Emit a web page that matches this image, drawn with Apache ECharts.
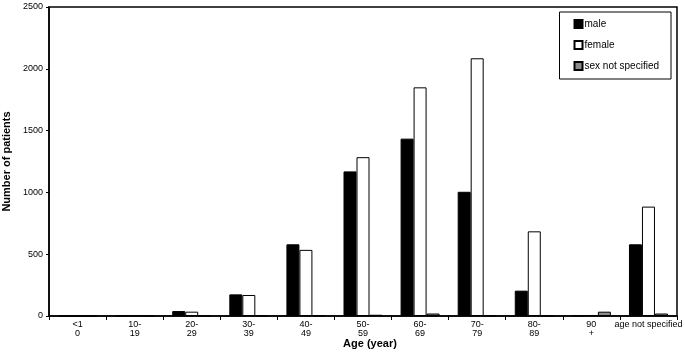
<!DOCTYPE html>
<html>
<head>
<meta charset="utf-8">
<script src="https://cdn.jsdelivr.net/npm/echarts@6/dist/echarts.min.js"></script>
<style>
html,body{margin:0;padding:0;background:#fff;}
#c{width:685px;height:352px;}
</style>
</head>
<body>
<div id="c"></div>
<script>
var categories = ['<1\n0', '10-\n19', '20-\n29', '30-\n39', '40-\n49', '50-\n59', '60-\n69', '70-\n79', '80-\n89', '90\n+', 'age not specified'];
var male = [0, 3, 40, 175, 580, 1170, 1435, 1005, 205, 5, 580];
var female = [0, 5, 35, 170, 535, 1285, 1850, 2085, 685, 8, 885];
var unspecified = [0, 2, 2, 3, 5, 10, 20, 5, 2, 35, 20];
var yTicks = [0, 500, 1000, 1500, 2000, 2500];

var chart = echarts.init(document.getElementById('c'));
var font = 'Liberation Sans, Arial, sans-serif';
function bar(name, data, color) {
  return {
    name: name, type: 'bar', data: data, barWidth: 13, barGap: '0%',
    itemStyle: { color: color, borderColor: '#000', borderWidth: 1 },
    emphasis: { disabled: true }
  };
}
chart.setOption({
  animation: false,
  textStyle: { fontFamily: font },
  grid: { left: 49, right: 8, top: 7, bottom: 36, outerBoundsMode: 'none', containLabel: false,
          show: true, borderColor: '#000', borderWidth: 1.5 },
  legend: {
    orient: 'vertical', right: 14, top: 12,
    borderColor: '#000', borderWidth: 1, padding: [7, 12, 8, 14],
    itemWidth: 8, itemHeight: 8, itemGap: 11,
    icon: 'rect',
    textStyle: { fontSize: 10, color: '#000', fontFamily: font, padding: [0, 0, 0, -3] },
    data: ['male', 'female', 'sex not specified']
  },
  graphic: [{
    type: 'text', x: 370, y: 344,
    style: { text: 'Age (year)', textAlign: 'center', textVerticalAlign: 'middle',
             font: 'bold 11px Liberation Sans, Arial, sans-serif', fill: '#000' }
  }],
  xAxis: {
    type: 'category', data: categories,
    axisLine: { lineStyle: { color: '#000', width: 1.5 } },
    axisTick: { show: true, length: 4, lineStyle: { color: '#000' } },
    axisLabel: { fontSize: 9, color: '#000', lineHeight: 9, margin: 4, interval: 0 }
  },
  yAxis: {
    type: 'value', min: 0, max: 2500, interval: 500,
    name: 'Number of patients', nameLocation: 'middle', nameGap: 37,
    nameTextStyle: { fontSize: 11, fontWeight: 'bold', color: '#000' },
    axisLine: { show: true, lineStyle: { color: '#000', width: 1.5 } },
    axisTick: { show: true, length: 3, lineStyle: { color: '#000' } },
    splitLine: { show: false },
    axisLabel: { fontSize: 9, color: '#000', margin: 6,
      formatter: function (v) { return yTicks.indexOf(v) >= 0 ? String(v) : ''; } }
  },
  series: [
    bar('male', male, '#000'),
    bar('female', female, '#fff'),
    bar('sex not specified', unspecified, '#8c8c8c')
  ]
});
</script>
</body>
</html>
